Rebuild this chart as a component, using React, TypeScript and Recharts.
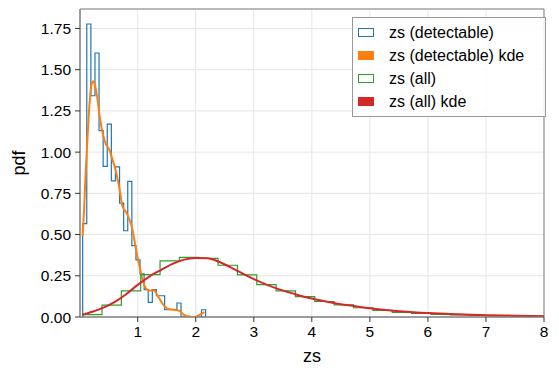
import React from 'react';
import { ComposedChart, Line, XAxis, YAxis, CartesianGrid, ReferenceArea } from 'recharts';

// ---- data ----
// histogram of detectable zs (30 bins)
const detBinStart = 0.052;
const detBinWidth = 0.0706;
const detDensity = [
  0.566, 1.777, 1.342, 1.601, 1.13, 0.913, 1.17, 0.825, 0.91, 0.691,
  0.523, 0.822, 0.433, 0.347, 0.262, 0.166, 0.089, 0.166, 0.129, 0.129,
  0.044, 0.044, 0.044, 0.085, 0, 0, 0, 0, 0, 0.044,
];

// histogram of all zs (24 bins)
const allBinStart = 0.052;
const allBinWidth = 0.3333;
const allDensity = [
  0.014, 0.072, 0.158, 0.257, 0.34, 0.362, 0.355, 0.314, 0.256, 0.196,
  0.159, 0.123, 0.094, 0.074, 0.056, 0.04, 0.028, 0.022, 0.016, 0.012,
  0.01, 0.008, 0.006, 0.005,
];

// kde of detectable zs
const detKdeX = [
  0.05, 0.08, 0.1, 0.13, 0.16, 0.2, 0.23, 0.26, 0.3, 0.34, 0.4, 0.45, 0.51,
  0.57, 0.62, 0.68, 0.74, 0.8, 0.86, 0.91, 0.97, 1.03, 1.09, 1.15, 1.21,
  1.28, 1.35, 1.44, 1.53, 1.64, 1.72, 1.79, 1.87, 1.95, 2.0, 2.07, 2.15,
];
const detKdeY = [
  0.49, 0.68, 0.85, 1.05, 1.24, 1.4, 1.43, 1.41, 1.34, 1.23, 1.11, 1.05, 1.015,
  0.95, 0.89, 0.79, 0.67, 0.635, 0.59, 0.53, 0.41, 0.31, 0.22, 0.17, 0.16,
  0.16, 0.125, 0.075, 0.048, 0.044, 0.038, 0.014, 0.004, 0.0, 0.002, 0.014, 0.03,
];

// kde of all zs
const allKdeX = [
  0.05, 0.2, 0.4, 0.6, 0.8, 1.0, 1.2, 1.4, 1.6, 1.8, 2.0, 2.2, 2.4, 2.7,
  3.0, 3.4, 3.7, 4.0, 4.4, 4.7, 5.0, 5.4, 6.0, 6.5, 7.0, 7.5, 8.0,
];
const allKdeY = [
  0.014, 0.03, 0.055, 0.09, 0.138, 0.195, 0.245, 0.285, 0.322, 0.348, 0.358,
  0.356, 0.335, 0.283, 0.23, 0.172, 0.14, 0.112, 0.084, 0.068, 0.053, 0.038,
  0.024, 0.016, 0.011, 0.008, 0.005,
];

const xTicks = [1, 2, 3, 4, 5, 6, 7, 8];
const yTicks = [0, 0.25, 0.5, 0.75, 1.0, 1.25, 1.5, 1.75];

const X_MIN = 0.006;
const X_MAX = 8;
const Y_MIN = 0;
const Y_MAX = 1.868;

const seriesNames = ['zs (detectable)', 'zs (detectable) kde', 'zs (all)', 'zs (all) kde'];
const COLORS = ['#1f77b4', '#ff7f0e', '#2ca02c', '#d62728'];

// ---- helpers ----
function stepOutline(start: number, width: number, dens: number[]) {
  const pts: { x: number; y: number }[] = [{ x: start, y: 0 }];
  dens.forEach((d, i) => {
    pts.push({ x: start + i * width, y: d });
    pts.push({ x: start + (i + 1) * width, y: d });
  });
  pts.push({ x: start + dens.length * width, y: 0 });
  return pts;
}

function zipXY(xs: number[], ys: number[]) {
  return xs.map((x, i) => ({ x, y: ys[i] }));
}

const detHist = stepOutline(detBinStart, detBinWidth, detDensity);
const allHist = stepOutline(allBinStart, allBinWidth, allDensity);
const detKde = zipXY(detKdeX, detKdeY);
const allKde = zipXY(allKdeX, allKdeY);

const FONT = '"Liberation Sans", Arial, Helvetica, sans-serif';

const YLabel = (props: any) => {
  const vb = props.viewBox || { x: 0, y: 9, width: 80, height: 308 };
  const cx = vb.x + 19;
  const cy = vb.y + vb.height / 2;
  return (
    <text
      x={cx}
      y={cy}
      transform={`rotate(-90, ${cx}, ${cy})`}
      textAnchor="middle"
      dominantBaseline="central"
      fontSize={18}
      fontFamily={FONT}
      fill="#000"
    >
      pdf
    </text>
  );
};

const Legend = () => (
  <div
    style={{
      position: 'absolute',
      left: 352,
      top: 17,
      width: 194,
      boxSizing: 'border-box',
      border: '1px solid #999',
      background: 'rgba(255,255,255,0.85)',
      paddingTop: 3,
      paddingBottom: 3,
      fontFamily: FONT,
      fontSize: 16,
      color: '#000',
    }}
  >
    {seriesNames.map((name, i) => {
      const hollow = i === 0 || i === 2;
      return (
        <div key={name} style={{ display: 'flex', alignItems: 'center', height: 23 }}>
          <div
            style={{
              marginLeft: 5,
              width: 16,
              height: 9,
              boxSizing: 'border-box',
              border: hollow ? `1.3px solid ${COLORS[i]}` : 'none',
              background: hollow ? 'transparent' : COLORS[i],
            }}
          />
          <span style={{ marginLeft: 15, whiteSpace: 'nowrap', lineHeight: '23px' }}>{name}</span>
        </div>
      );
    })}
  </div>
);

export default function App() {
  return (
    <div style={{ position: 'absolute', left: 0, top: 0, width: 559, height: 379, background: '#fff' }}>
      <ComposedChart
        width={559}
        height={379}
        margin={{ top: 9, right: 15, bottom: 0, left: 0 }}
        style={{ fontFamily: FONT }}
      >
        <CartesianGrid stroke="#e5e5e5" strokeWidth={1} vertical horizontal />
        <XAxis
          dataKey="x"
          type="number"
          domain={[X_MIN, X_MAX]}
          allowDataOverflow
          ticks={xTicks}
          tickFormatter={(v: number) => String(v)}
          height={62}
          axisLine={{ stroke: '#808080', strokeWidth: 1 }}
          tickLine={{ stroke: '#333', strokeWidth: 1 }}
          tickSize={5}
          tickMargin={4}
          tick={{ fill: '#000', fontSize: 15.5, fontFamily: FONT }}
          label={{ value: 'zs', position: 'insideBottom', offset: 17, fontSize: 18, fill: '#000', fontFamily: FONT }}
        />
        <YAxis
          type="number"
          domain={[Y_MIN, Y_MAX]}
          allowDataOverflow
          ticks={yTicks}
          tickFormatter={(v: number) => v.toFixed(2)}
          width={80}
          axisLine={{ stroke: '#808080', strokeWidth: 1 }}
          tickLine={{ stroke: '#333', strokeWidth: 1 }}
          tickSize={5}
          tickMargin={4}
          tick={{ fill: '#000', fontSize: 15.5, fontFamily: FONT }}
          label={<YLabel />}
        />
        <ReferenceArea
          x1={X_MIN}
          x2={X_MAX}
          y1={Y_MIN}
          y2={Y_MAX}
          fill="none"
          fillOpacity={0}
          stroke="#808080"
          strokeWidth={1}
        />
        <Line
          data={detHist}
          dataKey="y"
          type="linear"
          stroke={COLORS[0]}
          strokeWidth={1.2}
          dot={false}
          activeDot={false}
          isAnimationActive={false}
        />
        <Line
          data={detKde}
          dataKey="y"
          type="monotone"
          stroke={COLORS[1]}
          strokeWidth={2}
          dot={false}
          activeDot={false}
          isAnimationActive={false}
        />
        <Line
          data={allHist}
          dataKey="y"
          type="linear"
          stroke={COLORS[2]}
          strokeWidth={1.2}
          dot={false}
          activeDot={false}
          isAnimationActive={false}
        />
        <Line
          data={allKde}
          dataKey="y"
          type="monotone"
          stroke={COLORS[3]}
          strokeWidth={2}
          dot={false}
          activeDot={false}
          isAnimationActive={false}
        />
      </ComposedChart>
      <Legend />
    </div>
  );
}
